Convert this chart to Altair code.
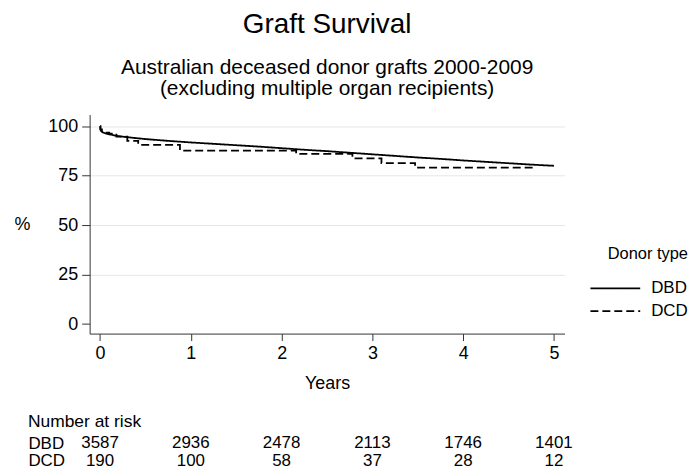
import altair as alt
import pandas as pd

# ---------------- data ----------------
donor_types = ["DBD", "DCD"]

dbd_years = [0, 0.003, 0.01, 0.03, 0.06, 0.1, 0.2, 0.35, 0.5, 0.75, 1.0, 1.25, 1.5,
             1.75, 2.0, 2.25, 2.5, 2.75, 3.0, 3.25, 3.5, 3.75, 4.0, 4.25, 4.5, 4.75, 5.0]
dbd_surv = [100, 98.5, 97.6, 96.9, 96.4, 95.9, 95.0, 94.2, 93.5, 92.6, 91.8, 91.1, 90.4,
            89.7, 88.9, 88.1, 87.4, 86.6, 85.8, 85.0, 84.2, 83.5, 82.7, 82.0, 81.3, 80.6, 80.0]

dcd_years = [0, 0.005, 0.02, 0.05, 0.1, 0.18, 0.3, 0.42, 0.88, 2.16, 2.78, 3.1, 3.47, 4.78]
dcd_surv = [100, 98.4, 97.4, 96.8, 96.3, 94.7, 92.6, 90.6, 87.7, 86.0, 83.7, 81.4, 79.1, 79.1]

risk_years = [0, 1, 2, 3, 4, 5]
dbd_at_risk = [3587, 2936, 2478, 2113, 1746, 1401]
dcd_at_risk = [190, 100, 58, 37, 28, 12]

x_ticks = [0, 1, 2, 3, 4, 5]
y_ticks = [0, 25, 50, 75, 100]

FONT = "Liberation Sans"
W, H = 477, 220

df_dbd = pd.DataFrame({"Years": dbd_years, "pct": dbd_surv, "Donor type": "DBD"})
df_dcd = pd.DataFrame({"Years": dcd_years, "pct": dcd_surv, "Donor type": "DCD"})
df_risk = pd.DataFrame({
    "Years": risk_years * 2,
    "n": dbd_at_risk + dcd_at_risk,
    "row": ["DBD"] * len(risk_years) + ["DCD"] * len(risk_years),
})

x_scale = alt.Scale(domain=[-0.115, 5.117], nice=False, zero=False)
y_scale = alt.Scale(domain=[-4.8, 105.9], nice=False, zero=False)
dash_scale = alt.Scale(domain=donor_types, range=[[1, 0], [8, 4]])

x_axis = alt.Axis(values=x_ticks, title="Years", grid=False, labelFontSize=18,
                  tickSize=7, labelPadding=4, titleFontSize=18, titleFontWeight="normal",
                  titlePadding=12, domainColor="#333333", tickColor="#333333",
                  labelColor="black", titleColor="black")
y_axis = alt.Axis(values=y_ticks, title="%", titleAngle=0, titleX=-68, titleY=H / 2,
                  titleAlign="center", titleBaseline="middle", titleFontSize=18,
                  titleFontWeight="normal", labelFontSize=18, tickSize=8, labelPadding=4,
                  domainColor="#333333", tickColor="#333333", gridColor="#e6e6e6",
                  gridOpacity={"condition": {"test": "datum.value === 0", "value": 0}, "value": 1},
                  labelColor="black", titleColor="black")

# horizontal stroke symbol, wider than its layout box so rows stay compact
legend = alt.Legend(title="Donor type", orient="none", legendX=517, legendY=132,
                    symbolType="M-2.5,0H2.5", symbolSize=400, symbolStrokeWidth=1.8,
                    symbolStrokeColor="black", labelFontSize=17, titleFontSize=16.5,
                    titleFontWeight="normal", rowPadding=4, titlePadding=15,
                    titleAnchor="end", labelOffset=25, labelColor="black",
                    titleColor="black", padding=0)

dbd_line = alt.Chart(df_dbd).mark_line(color="black", strokeWidth=1.8, interpolate="linear").encode(
    x=alt.X("Years:Q", scale=x_scale, axis=x_axis),
    y=alt.Y("pct:Q", scale=y_scale, axis=y_axis),
    strokeDash=alt.StrokeDash("Donor type:N", scale=dash_scale, legend=legend),
)
dcd_line = alt.Chart(df_dcd).mark_line(color="black", strokeWidth=1.8, interpolate="step-after").encode(
    x=alt.X("Years:Q", scale=x_scale, axis=x_axis),
    y=alt.Y("pct:Q", scale=y_scale, axis=y_axis),
    strokeDash=alt.StrokeDash("Donor type:N", scale=dash_scale, legend=legend),
)

main = alt.layer(dbd_line, dcd_line).properties(
    width=W, height=H,
    title=alt.TitleParams(
        "Graft Survival",
        subtitle=["Australian deceased donor grafts 2000-2009",
                  "(excluding multiple organ recipients)"],
        fontSize=28, subtitleFontSize=21, fontWeight="normal",
        subtitleLineHeight=21, subtitlePadding=18, anchor="middle", frame="group",
        offset=16, color="black", subtitleColor="black", font=FONT, subtitleFont=FONT,
    ),
)

table = alt.Chart(df_risk).mark_text(fontSize=17, font=FONT, baseline="middle",
                                     align="center", color="black").encode(
    x=alt.X("Years:Q", scale=x_scale, axis=None),
    y=alt.Y("row:N", sort=donor_types, scale=alt.Scale(type="point", padding=0),
            axis=alt.Axis(title=None, domain=False, ticks=False, tickSize=0, grid=False,
                          labelAlign="left", labelPadding=62, labelFontSize=17,
                          labelColor="black")),
    text="n:Q",
).properties(
    width=W, height=18,
    title=alt.TitleParams("Number at risk", anchor="start", frame="bounds", fontSize=17.5,
                          fontWeight="normal", offset=4, color="black", font=FONT),
)

chart = alt.vconcat(main, table, spacing=20).properties(
    padding={"left": 5, "top": 2, "right": 0, "bottom": 0}
).configure(font=FONT).configure_view(strokeWidth=0).configure_axis(
    labelFont=FONT, titleFont=FONT
).configure_legend(labelFont=FONT, titleFont=FONT)

chart.save("out.html", embed_options={"renderer": "svg", "actions": False})
